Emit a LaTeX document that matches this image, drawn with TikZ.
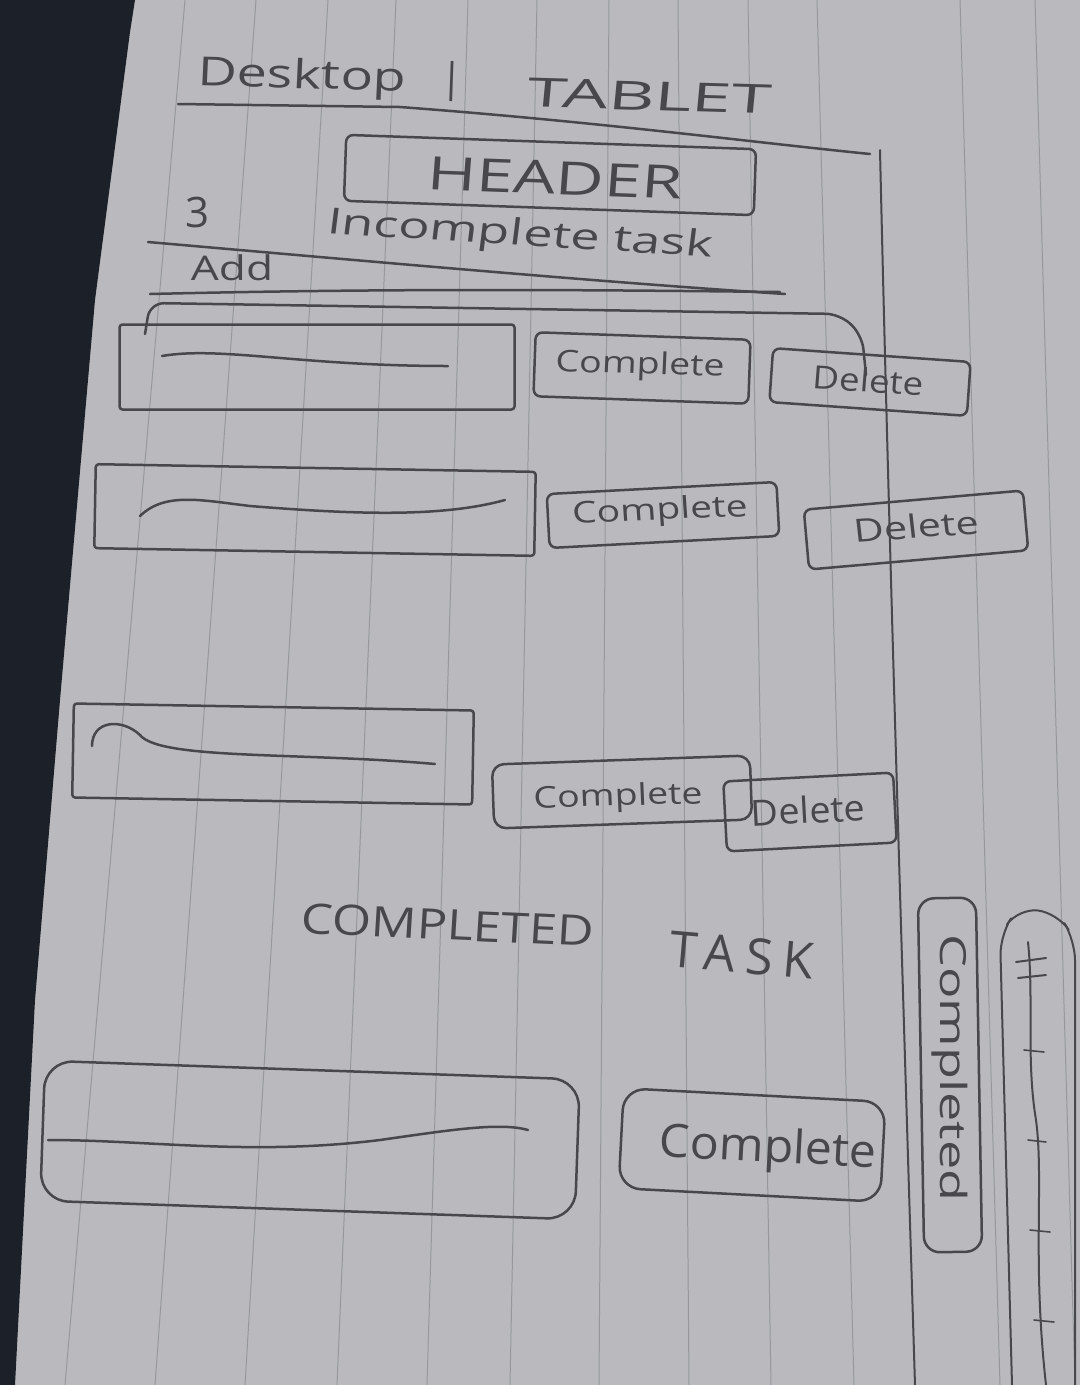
\documentclass[tikz,border=0pt]{standalone}
\usepackage{fontspec}
\setmainfont{Open Sans}
\definecolor{paper}{RGB}{186,186,190}
\definecolor{cover}{RGB}{28,32,40}
\definecolor{rule}{RGB}{150,152,158}
\definecolor{pen}{RGB}{72,72,76}
\begin{document}
\begin{tikzpicture}[x=1pt,y=-1pt,
  pencil/.style={draw=pen,line width=2.5pt,line cap=round,line join=round},
  ruled/.style={draw=rule,line width=1pt},
  fieldbox/.style={pencil,rounded corners=3pt,inner sep=0pt},
  btnbox/.style={pencil,rounded corners=7pt,inner sep=0pt},
  lbl/.style={text=pen,inner sep=0pt},
  fs/.style={font=\fontsize{#1}{#1}\selectfont}]
\useasboundingbox (0,0) rectangle (1080,1385);
\fill[paper] (0,0) rectangle (1080,1385);
% ruled vertical lines
\foreach \a/\b in {185/65,256/155,328/245,396/337,468/427,537/510,609/599,678/689,748/771,817/854,960/1000,1035/1075}
  \draw[ruled] (\a,0) -- (\b,1385);
% notebook cover at the left
\fill[cover] (0,0) -- (135,0) -- (130,32) -- (95,300) -- (60,700) -- (35,1000) -- (15,1385) -- (0,1385) -- cycle;
% title
\node[lbl,fs=40,xscale=1.35,rotate=-2] (desk) at (302,78) {Desktop};
\node[lbl,fs=40,rotate=-2] (bar) at (452,82) {|};
\node[lbl,fs=40,xscale=1.8,rotate=-3] (tab) at (650,96) {TABLET};
\draw[pencil] (178,104) -- (400,107) .. controls (600,122) and (750,142) .. (870,154);
% header
\node[btnbox,minimum width=410pt,minimum height=66pt,rotate=-2] (hdrbox) at (550,175) {};
\node[lbl,fs=46,xscale=1.45,rotate=-3] (hdr) at (555,178) {HEADER};
% incomplete task heading
\node[lbl,fs=42] (three) at (198,212) {3};
\node[lbl,fs=36,xscale=1.45,rotate=-5] (inc) at (520,236) {Incomplete task};
\node[lbl,fs=34,xscale=1.3] (add) at (232,268) {Add};
\draw[pencil] (148,242) .. controls (400,264) and (600,282) .. (785,294);
\draw[pencil] (150,294) .. controls (400,288) and (600,290) .. (780,292);
% bracket over first row
\draw[pencil,rounded corners=14pt] (145,334) -- (150,303) -- (840,314) -- (862,335) -- (866,375);
% row 1
\node[fieldbox,minimum width=395pt,minimum height=85pt] (t1) at (317,367) {};
\draw[pencil] (162,356) .. controls (220,346) and (300,366) .. (448,366);
\node[btnbox,minimum width=215pt,minimum height=64pt,rotate=-2] (c1) at (642,368) {};
\node[lbl,fs=30,xscale=1.25,rotate=-2] (c1t) at (640,366) {Complete};
\node[btnbox,minimum width=198pt,minimum height=54pt,rotate=-4] (d1) at (870,382) {};
\node[lbl,fs=32,xscale=1.15,rotate=-4] (d1t) at (868,380) {Delete};
% row 2
\node[fieldbox,minimum width=440pt,minimum height=84pt,rotate=-1] (t2) at (315,510) {};
\draw[pencil] (140,516) .. controls (165,492) and (200,500) .. (250,506) .. controls (350,514) and (440,518) .. (505,500);
\node[btnbox,minimum width=230pt,minimum height=54pt,rotate=3] (c2) at (663,515) {};
\node[lbl,fs=30,xscale=1.3,rotate=3] (c2t) at (660,512) {Complete};
\node[btnbox,minimum width=220pt,minimum height=60pt,rotate=5] (d2) at (916,530) {};
\node[lbl,fs=32,xscale=1.3,rotate=5] (d2t) at (916,526) {Delete};
% row 3
\node[fieldbox,minimum width=400pt,minimum height=94pt,rotate=-1] (t3) at (273,754) {};
\draw[pencil] (92,746) .. controls (92,720) and (122,718) .. (140,735) .. controls (160,760) and (300,752) .. (435,764);
\node[btnbox,minimum width=258pt,minimum height=64pt,rotate=2,rounded corners=12pt] (c3) at (622,792) {};
\node[lbl,fs=30,xscale=1.25,rotate=2] (c3t) at (618,798) {Complete};
\node[btnbox,minimum width=170pt,minimum height=70pt,rotate=3] (d3) at (810,812) {};
\node[lbl,fs=36,xscale=1.05,rotate=3] (d3t) at (808,810) {Delete};
% long vertical divider
\draw[pencil,line width=2pt] (880,150) .. controls (888,500) and (900,900) .. (915,1385);
% completed task heading
\node[lbl,fs=42,xscale=1.2,rotate=-3] (cmp) at (448,925) {COMPLETED};
\node[lbl,rotate=-5,font={\fontsize{50}{50}\selectfont\addfontfeature{LetterSpace=20}}] (task) at (742,955) {TASK};
% vertical completed button
\node[btnbox,minimum width=58pt,minimum height=354pt,rounded corners=16pt,rotate=1] (vc) at (950,1075) {};
\node[lbl,fs=36,rotate=-90,xscale=1.45] (vct) at (950,1068) {Completed};
% right tall panel
\draw[pencil,line width=2pt,rounded corners=20pt] (1012,1385) -- (1000,935) -- (1018,908) -- (1058,913) -- (1075,940) -- (1075,1385);
\draw[pencil,line width=2pt] (1028,942) .. controls (1034,1000) and (1026,1060) .. (1036,1120) .. controls (1044,1180) and (1032,1260) .. (1046,1385);
\draw[pencil,line width=2pt] (1016,962) -- (1046,958) (1018,978) -- (1046,975);
\draw[pencil,line width=1.6pt] (1024,1050) -- (1044,1052) (1028,1140) -- (1046,1142) (1030,1230) -- (1050,1232) (1034,1320) -- (1054,1322);
% bottom row
\node[fieldbox,minimum width=535pt,minimum height=140pt,rounded corners=28pt,rotate=-2] (t4) at (310,1140) {};
\draw[pencil] (48,1140) .. controls (150,1140) and (250,1156) .. (380,1140) .. controls (450,1130) and (500,1122) .. (528,1130);
\node[btnbox,minimum width=262pt,minimum height=100pt,rounded corners=22pt,rotate=-3] (c4) at (752,1145) {};
\node[lbl,fs=46,xscale=1.05,rotate=-3] (c4t) at (768,1150) {Complete};
\end{tikzpicture}
\end{document}
